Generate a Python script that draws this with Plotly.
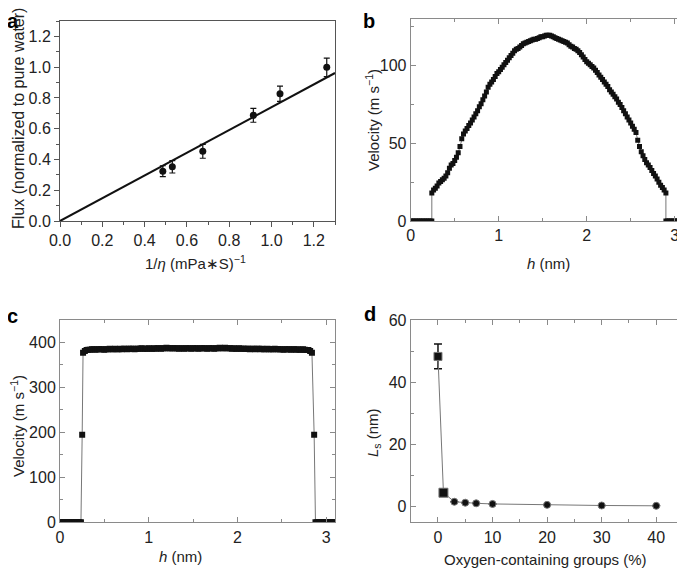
import plotly.graph_objects as go

# ---------------- Panel a ----------------
a_x = [0.486, 0.531, 0.675, 0.914, 1.04, 1.261]
a_y = [0.324, 0.352, 0.453, 0.687, 0.827, 0.999]
a_err = [0.035, 0.04, 0.045, 0.045, 0.05, 0.06]
a_fit_x = [0.0, 1.3]
a_fit_y = [0.0, 0.962]

# ---------------- Panel b ----------------
b_zero_left = [0.0, 0.02, 0.04, 0.06, 0.08, 0.10, 0.12, 0.14, 0.16, 0.18, 0.20, 0.22, 0.24]
b_zero_right = [2.90, 2.92, 2.94, 2.96, 2.98, 3.00, 3.02, 3.04, 3.06, 3.08, 3.10]
b_h_start = 0.24
b_h_step = 0.02
b_v = [18, 20, 21, 22.5, 24.5, 25.5, 26.5, 27.5, 29, 31,
       34, 36, 37, 39, 41, 44, 48, 53, 56, 58,
       59.5, 61.5, 63, 65, 67, 69, 71, 73.5, 75.5, 78,
       80.5, 83, 86, 88, 89.5, 91, 93, 95, 96, 97.5,
       99, 100.5, 102, 103.5, 105, 106.5, 108, 109.5, 110.5, 111,
       112, 113, 114, 114.5, 115, 115.5, 116, 116.5, 117, 117,
       117.5, 118, 118.5, 118.5, 119, 119.5, 119.5, 119.5, 119, 118.5,
       118, 117.5, 117, 116.5, 116, 115.5, 115, 114.5, 113.5, 112.5,
       112, 111, 110.5, 109.5, 108.5, 107, 105.5, 104, 102.5, 101.5,
       100.5, 99.5, 98.5, 97, 95.5, 94, 92.5, 91, 89.5, 88,
       86.5, 84.5, 83, 81.5, 80, 78.5, 76.5, 75, 73, 71,
       69, 67, 65, 63, 61, 59, 57, 52, 48, 44.5,
       42, 39.5, 37.5, 36, 34.5, 32.5, 30.5, 29, 27, 25,
       23, 21.5, 20, 18]

# ---------------- Panel c ----------------
c_zero_left = [0.0, 0.02, 0.04, 0.06, 0.08, 0.10, 0.12, 0.14, 0.16, 0.18, 0.20, 0.22, 0.236]
c_zero_right = [2.88, 2.90, 2.92, 2.94, 2.96, 2.98, 3.00, 3.02, 3.04, 3.06, 3.08, 3.10]
c_edge_left_h = [0.25, 0.26]
c_edge_left_v = [195, 377]
c_edge_right_h = [2.84, 2.865]
c_edge_right_v = [377, 195]
c_h_start = 0.28
c_h_step = 0.02
c_plateau = [381, 383, 384, 384, 385, 385, 384, 385, 385, 385,
             385, 384, 385, 385, 386, 385, 385, 386, 385, 385,
             386, 385, 386, 386, 385, 386, 386, 386, 385, 386,
             386, 386, 387, 386, 386, 386, 387, 386, 386, 387,
             386, 387, 387, 386, 387, 387, 388, 387, 387, 387,
             387, 387, 387, 386, 387, 387, 386, 387, 387, 387,
             386, 387, 387, 387, 386, 387, 387, 387, 387, 386,
             387, 387, 387, 386, 387, 387, 388, 387, 387, 388,
             387, 387, 387, 386, 387, 386, 386, 387, 386, 386,
             386, 386, 386, 385, 386, 386, 385, 386, 386, 385,
             386, 385, 385, 386, 385, 385, 385, 386, 385, 385,
             385, 385, 384, 385, 385, 385, 384, 385, 385, 384,
             385, 384, 384, 385, 384, 383, 383, 381]

# ---------------- Panel d ----------------
d_x = [0, 1, 3, 5, 7, 10, 20, 30, 40]
d_y = [48.3, 4.5, 1.6, 1.3, 1.1, 0.9, 0.6, 0.4, 0.3]
d_err = [4.0, 1.1, 0, 0, 0, 0, 0, 0, 0]
d_symbols = ["square", "square", "circle", "circle", "circle", "circle", "circle", "circle", "circle"]
d_sizes = [8, 9, 7, 7, 7, 7, 7, 7, 7]

# ---------- assemble series ----------
b_h = [round(b_h_start + b_h_step * i, 3) for i in range(len(b_v))]
b_x = b_zero_left + b_h + b_zero_right
b_y = [0] * len(b_zero_left) + b_v + [0] * len(b_zero_right)

c_h = [round(c_h_start + c_h_step * i, 3) for i in range(len(c_plateau))]
c_x = c_zero_left + c_edge_left_h + c_h + c_edge_right_h + c_zero_right
c_y = [0] * len(c_zero_left) + c_edge_left_v + c_plateau + c_edge_right_v + [0] * len(c_zero_right)

FONT = "Liberation Sans, Arial, sans-serif"
TXT = "#222222"
AX = "#8a8a8a"

fig = go.Figure()

# Panel a
fig.add_trace(go.Scatter(x=a_fit_x, y=a_fit_y, mode="lines",
                         line=dict(color="#111111", width=2), xaxis="x", yaxis="y",
                         showlegend=False, hoverinfo="skip"))
fig.add_trace(go.Scatter(x=a_x, y=a_y, mode="markers",
                         marker=dict(color="#111111", size=7, symbol="circle", opacity=1),
                         error_y=dict(type="data", array=a_err, color="#111111", thickness=1.2, width=3),
                         xaxis="x", yaxis="y", showlegend=False))

# Panel b
fig.add_trace(go.Scatter(x=b_x, y=b_y, mode="lines+markers",
                         line=dict(color="#777777", width=1),
                         marker=dict(color="#111111", size=5, symbol="square", opacity=1),
                         xaxis="x2", yaxis="y2", showlegend=False))

# Panel c
fig.add_trace(go.Scatter(x=c_x, y=c_y, mode="lines+markers",
                         line=dict(color="#777777", width=1),
                         marker=dict(color="#111111", size=6, symbol="square", opacity=1),
                         xaxis="x3", yaxis="y3", showlegend=False))

# Panel d
fig.add_trace(go.Scatter(x=d_x, y=d_y, mode="lines+markers",
                         line=dict(color="#777777", width=1),
                         marker=dict(color="#111111", size=d_sizes, symbol=d_symbols, opacity=1),
                         error_y=dict(type="data", array=d_err, color="#111111", thickness=1.5, width=4),
                         xaxis="x4", yaxis="y4", showlegend=False))

# The page body has an 8px margin, so the figure is drawn 8px in from the window corner.
OFF = 8
PAGE_W, PAGE_H = 685, 569
W, H = PAGE_W - OFF, PAGE_H - OFF

def px_x(v):
    return (v - OFF) / W
def px_y(v):
    return (PAGE_H - v) / H

tickfont = dict(family=FONT, size=16, color=TXT)

def axis_common(**kw):
    d = dict(showgrid=False, zeroline=False, showline=True, linecolor=AX, linewidth=1,
             tickfont=tickfont, tickcolor=AX, ticklen=5, tickwidth=1, automargin=False)
    d.update(kw)
    return d

dom_x_left = [px_x(60), px_x(335)]
dom_x_right = [px_x(410.7), px_x(683.5)]
dom_y_top_a = [px_y(221), px_y(21)]
dom_y_top_b = [px_y(221), px_y(19)]
dom_y_bot = [px_y(522.3), px_y(320)]

fig.update_layout(
    template="none",
    width=W, height=H, margin=dict(l=0, r=0, t=0, b=0),
    paper_bgcolor="white", plot_bgcolor="white",
    font=dict(family=FONT, color=TXT),
    xaxis=axis_common(domain=dom_x_left, anchor="y", range=[0, 1.3], dtick=0.2, tick0=0, tickformat=".1f",
                      ticks="outside", mirror=True, linecolor="#555555", tickcolor="#555555",
                      minor=dict(dtick=0.1, ticks="outside", ticklen=3, tickcolor="#555555")),
    yaxis=axis_common(domain=dom_y_top_a, anchor="x", range=[0, 1.3], dtick=0.2, tick0=0, tickformat=".1f",
                      ticks="outside", mirror=True, linecolor="#555555", tickcolor="#555555",
                      minor=dict(dtick=0.1, ticks="outside", ticklen=3, tickcolor="#555555")),
    xaxis2=axis_common(domain=dom_x_right, anchor="y2", range=[0, 3.1], dtick=1, tick0=0,
                       ticks="inside", mirror="ticks",
                       minor=dict(dtick=0.5, ticks="inside", ticklen=3, tickcolor=AX)),
    yaxis2=axis_common(domain=dom_y_top_b, anchor="x2", range=[0, 130], dtick=50, tick0=0,
                       ticks="inside", mirror="ticks",
                       minor=dict(dtick=25, ticks="inside", ticklen=3, tickcolor=AX)),
    xaxis3=axis_common(domain=dom_x_left, anchor="y3", range=[0, 3.1], dtick=1, tick0=0,
                       ticks="inside", mirror="ticks",
                       minor=dict(dtick=0.5, ticks="inside", ticklen=3, tickcolor=AX)),
    yaxis3=axis_common(domain=dom_y_bot, anchor="x3", range=[0, 450], dtick=100, tick0=0,
                       ticks="inside", mirror="ticks",
                       minor=dict(dtick=50, ticks="inside", ticklen=3, tickcolor=AX)),
    xaxis4=axis_common(domain=dom_x_right, anchor="y4", range=[-5, 45], dtick=10, tick0=0,
                       ticks="inside", mirror="ticks",
                       minor=dict(dtick=5, ticks="inside", ticklen=3, tickcolor=AX)),
    yaxis4=axis_common(domain=dom_y_bot, anchor="x4", range=[-5, 60], dtick=20, tick0=0,
                       ticks="inside", mirror="ticks",
                       minor=dict(dtick=10, ticks="inside", ticklen=3, tickcolor=AX)),
)

title_font = dict(family=FONT, size=15, color=TXT)
letter_font = dict(family=FONT, size=20, color="#000000")

annotations = [
    # panel letters (kept just inside the drawable area)
    dict(text="<b>a</b>", x=px_x(13), y=px_y(8), yanchor="top", font=letter_font),
    dict(text="<b>b</b>", x=px_x(369), y=px_y(8), yanchor="top", font=letter_font),
    dict(text="<b>c</b>", x=px_x(12), y=px_y(303), yanchor="top", font=letter_font),
    dict(text="<b>d</b>", x=px_x(370), y=px_y(301), yanchor="top", font=letter_font),
    # axis titles
    dict(text="Flux (normalized to pure water)", x=px_x(18), y=px_y(119), textangle=-90,
         font=dict(family=FONT, size=16, color=TXT)),
    dict(text="1/<i>η</i> (mPa∗S)<sup>−1</sup>", x=px_x(195), y=px_y(262), font=title_font),
    dict(text="Velocity (m s<sup>−1</sup>)", x=px_x(373), y=px_y(120), textangle=-90, font=title_font),
    dict(text="<i>h</i> (nm)", x=px_x(548), y=px_y(263), font=title_font),
    dict(text="Velocity (m s<sup>−1</sup>)", x=px_x(17), y=px_y(426), textangle=-90, font=title_font),
    dict(text="<i>h</i> (nm)", x=px_x(180), y=px_y(556), font=title_font),
    dict(text="<i>L</i><sub>s</sub> (nm)", x=px_x(373), y=px_y(433), textangle=-90, font=title_font),
    dict(text="Oxygen-containing groups (%)", x=px_x(545), y=px_y(559), font=title_font),
]
for an in annotations:
    base = dict(xref="paper", yref="paper", showarrow=False, xanchor="center", yanchor="middle")
    base.update(an)
    an.clear()
    an.update(base)
fig.update_layout(annotations=annotations)

fig.write_html("out.html")
